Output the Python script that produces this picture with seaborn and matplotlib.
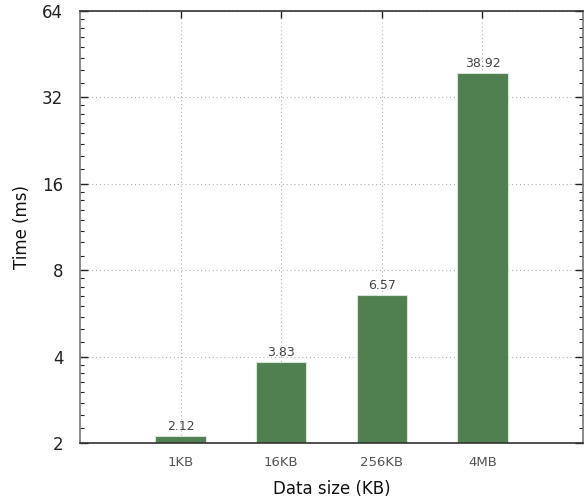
import matplotlib
matplotlib.use("Agg")
import matplotlib.pyplot as plt
import seaborn as sns
import pandas as pd
from matplotlib.ticker import LogLocator, FixedLocator, FixedFormatter, NullFormatter

categories = ["1KB", "16KB", "256KB", "4MB"]
times = [2.12, 3.83, 6.57, 38.92]
yticks = [2, 4, 8, 16, 32, 64]

sns.set_theme(style="white")
plt.rcParams['font.family'] = ['DejaVu Sans']

df = pd.DataFrame({"size": categories, "time": times})

fig = plt.figure(figsize=(5.84, 4.97), dpi=100)
ax = fig.add_axes([80/584, 54/497, 503/584, 432/497])
ax.set_yscale('log', base=2)
sns.barplot(data=df, x="size", y="time", order=categories, color="#507f50",
            saturation=1, width=0.5, edgecolor="#d8e4d8", linewidth=0.8, ax=ax, zorder=2)
ax.set_xlim(-1, 4)
ax.set_ylim(2, 64)

ax.yaxis.set_major_locator(FixedLocator(yticks))
ax.yaxis.set_major_formatter(FixedFormatter([str(v) for v in yticks]))
ax.yaxis.set_minor_locator(LogLocator(base=2, subs=[1 + k/8 for k in range(1, 8)]))
ax.yaxis.set_minor_formatter(NullFormatter())

ax.grid(True, which='major', color='#b0b0b0', linestyle=(0, (1, 2.5)), linewidth=0.8, zorder=0)
ax.set_axisbelow(True)

ax.tick_params(axis='y', which='major', direction='in', length=6, width=1, color='#222222',
               left=True, right=True, labelsize=12, labelcolor='#222222', pad=12)
ax.tick_params(axis='y', which='minor', direction='in', length=3, width=0.8, color='#222222',
               left=True, right=True)
ax.tick_params(axis='x', which='major', direction='in', length=5, width=1, color='#222222',
               bottom=False, top=True, labelsize=9.5, labelcolor='#555555', pad=9)

for s in ax.spines.values():
    s.set_visible(True)
    s.set_color('#333333')
    s.set_linewidth(1.2)
ax.spines['left'].set_color('#777777')
ax.spines['right'].set_color('#777777')

for c in ax.containers:
    ax.bar_label(c, fmt='%.2f', fontsize=9, color='#444444', padding=2)

ax.set_xlabel("Data size (KB)", fontsize=12, color='#111111', labelpad=8)
ax.set_ylabel("Time (ms)", fontsize=12, color='#111111', labelpad=8)

fig.savefig("out.png", dpi=100)
